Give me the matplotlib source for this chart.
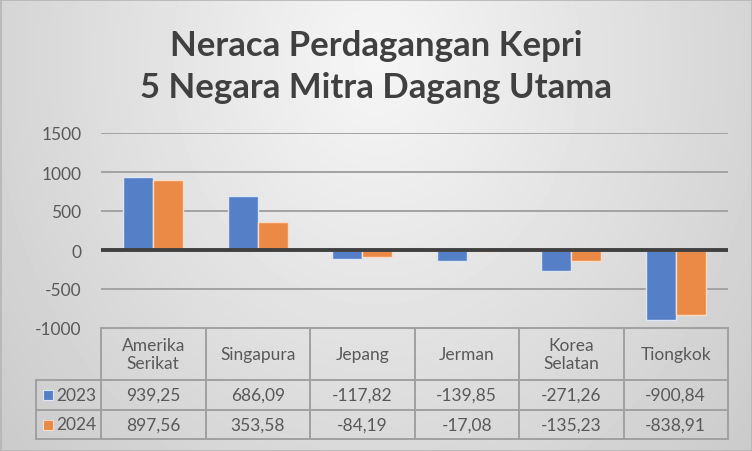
import numpy as np
import matplotlib
matplotlib.use("Agg")
import matplotlib.pyplot as plt
from matplotlib.patches import Rectangle

plt.rcParams["font.family"] = ["Lato", "DejaVu Sans"]

# data
countries = ["Amerika\nSerikat", "Singapura", "Jepang", "Jerman", "Korea\nSelatan", "Tiongkok"]
years = ["2023", "2024"]
val_2023 = [939.25, 686.09, -117.82, -139.85, -271.26, -900.84]
val_2024 = [897.56, 353.58, -84.19, -17.08, -135.23, -838.91]
yticks = [-1000, -500, 0, 500, 1000, 1500]

W, H = 752, 452
blue, orange = "#5580C8", "#EB8A47"
txt = "#595959"
grid_c = "#A3A3A3"

fig = plt.figure(figsize=(W / 100, H / 100), dpi=100)

# background with radial grey gradient
bg = fig.add_axes([0, 0, 1, 1])
xx, yy = np.meshgrid(np.arange(W), np.arange(H))
d = np.sqrt(((xx - 376) / 376) ** 2 + ((yy - 60) / 452) ** 2)
bg.imshow(0.965 - 0.13 * d, extent=[0, W, H, 0], cmap="gray", vmin=0, vmax=1,
          aspect="auto", interpolation="bilinear")
bg.set_xlim(0, W)
bg.set_ylim(H, 0)
bg.axis("off")
bg.add_patch(Rectangle((0.5, 0.5), W - 1, H - 1, fill=False, ec="#B5B5B5", lw=1.2))

# title
bg.text(W / 2, 46, "Neraca Perdagangan Kepri", ha="center", va="center",
        fontsize=25, fontweight="bold", color="#404040")
bg.text(W / 2, 88, "5 Negara Mitra Dagang Utama", ha="center", va="center",
        fontsize=25, fontweight="bold", color="#404040")

# plot area
left, right, top, zero_bottom = 101, 728, 134, 329
ax = fig.add_axes([left / W, (H - zero_bottom) / H, (right - left) / W, (zero_bottom - top) / H])
ax.patch.set_alpha(0)
n = len(countries)
x = np.arange(n)
bw = 0.287
ax.bar(x - bw / 2, val_2023, bw, color=blue, edgecolor="#DDE6F5", linewidth=1, zorder=3)
ax.bar(x + bw / 2, val_2024, bw, color=orange, edgecolor="#FBDCC6", linewidth=1, zorder=3)
ax.set_xlim(-0.5, n - 0.5)
ax.set_ylim(-1000, 1500)
ax.set_yticks(yticks)
ax.set_yticklabels([str(t) for t in yticks])
ax.yaxis.grid(True, color=grid_c, lw=1.4, zorder=0)
ax.axhline(0, color="#404040", lw=2.8, zorder=4)
ax.tick_params(axis="y", length=0, pad=14, labelsize=12.5, labelcolor=txt)
ax.tick_params(axis="x", length=0, labelbottom=False)
for s in ax.spines.values():
    s.set_visible(False)

# data table beneath plot
col_w = (right - left) / n
rows_y = [329, 381, 411, 440]
leg_left = 36
lc = "#A0A0A0"
lw = 1.4
bg.plot([left, right], [rows_y[0], rows_y[0]], color=lc, lw=lw)
for yv in rows_y[1:]:
    bg.plot([leg_left, right], [yv, yv], color=lc, lw=lw)
for i in range(n + 1):
    xv = left + i * col_w
    bg.plot([xv, xv], [rows_y[0], rows_y[-1]], color=lc, lw=lw)
bg.plot([leg_left, leg_left], [rows_y[1], rows_y[-1]], color=lc, lw=lw)

for i, c in enumerate(countries):
    cx = left + (i + 0.5) * col_w
    bg.text(cx, (rows_y[0] + rows_y[1]) / 2, c, ha="center", va="center",
            fontsize=12.5, color=txt, linespacing=1.15)
    for r, v in enumerate([val_2023[i], val_2024[i]]):
        bg.text(cx, (rows_y[r + 1] + rows_y[r + 2]) / 2, f"{v:.2f}".replace(".", ","),
                ha="center", va="center", fontsize=12.5, color=txt)

for r, (yr, col, ec) in enumerate(zip(years, [blue, orange], ["#DDE6F5", "#FBDCC6"])):
    cy = (rows_y[r + 1] + rows_y[r + 2]) / 2
    bg.add_patch(Rectangle((43, cy - 5), 10, 10, fc=col, ec=ec, lw=0.8))
    bg.text(56, cy, yr, ha="left", va="center", fontsize=12.5, color=txt)

fig.savefig("out.png", dpi=100)
